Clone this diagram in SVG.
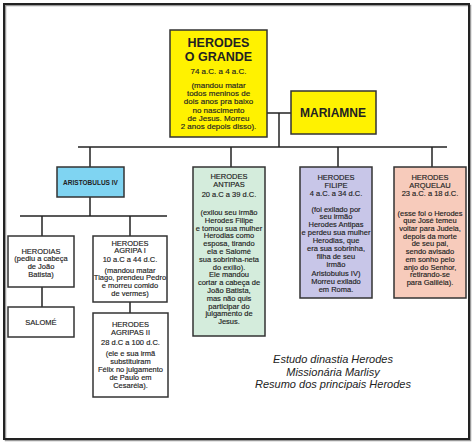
<svg xmlns="http://www.w3.org/2000/svg" width="474" height="443" viewBox="0 0 474 443">
<style>
text{font-family:"Liberation Sans",Arial,sans-serif;fill:#222;text-anchor:middle}
.t{font-size:7.5px;stroke:#222;stroke-width:0.15}
.g{font-size:8px;stroke:#222;stroke-width:0.15}
.hb{font-weight:bold}
.box{stroke:#333;stroke-width:1.5}
.w{fill:#fff}
.c line{stroke:#222;stroke-width:1.5}
.it{font-size:11px;font-style:italic}
</style>
<rect x="0" y="0" width="474" height="443" fill="#fff"/>
<rect x="5.5" y="5.5" width="465" height="435" fill="none" stroke="#999" stroke-width="1.5"/>
<rect x="4" y="4" width="465" height="435" fill="none" stroke="#222" stroke-width="2"/>
<g class="c" id="connectors">
<line x1="267" y1="113" x2="291" y2="113"/>
<line x1="279" y1="113" x2="279" y2="147"/>
<line x1="78" y1="147" x2="447" y2="147"/>
<line x1="90" y1="147" x2="90" y2="167"/>
<line x1="231" y1="147" x2="231" y2="167"/>
<line x1="338" y1="147" x2="338" y2="167"/>
<line x1="432" y1="147" x2="432" y2="167"/>
<line x1="90" y1="197" x2="90" y2="216"/>
<line x1="20" y1="216" x2="167" y2="216"/>
<line x1="42" y1="216" x2="42" y2="236"/>
<line x1="130" y1="216" x2="130" y2="236"/>
<line x1="42" y1="287" x2="42" y2="307"/>
<line x1="130" y1="302" x2="130" y2="313"/>
</g>
<g id="herodes-grande">
<rect class="box" x="170" y="30" width="97" height="107" fill="#fff200"/>
<text x="218.5" y="47" class="hb" font-size="12.5">HERODES</text>
<text x="218.5" y="61" class="hb" font-size="12.5">O GRANDE</text>
<text x="218.5" y="74" class="g">74 a.C. a 4 a.C.</text>
<text x="218.5" y="88" class="g">(mandou matar</text>
<text x="218.5" y="96.2" class="g">todos meninos de</text>
<text x="218.5" y="104.4" class="g">dois anos pra baixo</text>
<text x="218.5" y="112.6" class="g">no nascimento</text>
<text x="218.5" y="120.8" class="g">de Jesus. Morreu</text>
<text x="218.5" y="129" class="g">2 anos depois disso).</text>
</g>
<g id="mariamne">
<rect class="box" x="291" y="91" width="85" height="43" fill="#fff200"/>
<text x="333" y="117" class="hb" font-size="12">MARIAMNE</text>
</g>
<g id="aristobulus">
<rect class="box" x="57" y="167" width="67" height="30" fill="#7fd4f2"/>
<text x="90.5" y="184.5" class="hb" font-size="6.5">ARISTOBULUS IV</text>
</g>
<g id="antipas">
<rect class="box" x="193" y="167" width="72" height="169" fill="#d4ecdc"/>
<g class="t">
<text x="229" y="179">HERODES</text>
<text x="229" y="186.5">ANTIPAS</text>
<text x="229" y="197">20 a.C a 39 d.C.</text>
<text x="229" y="215">(exilou seu irmão</text>
<text x="229" y="222.8">Herodes Filipe</text>
<text x="229" y="230.6">e tomou sua mulher</text>
<text x="229" y="238.4">Herodias como</text>
<text x="229" y="246.2">esposa, tirando</text>
<text x="229" y="254">ela e Salomé</text>
<text x="229" y="261.8">sua sobrinha-neta</text>
<text x="229" y="269.6">do exílio).</text>
<text x="229" y="277.4">Ele mandou</text>
<text x="229" y="285.2">cortar a cabeça de</text>
<text x="229" y="293">João Batista,</text>
<text x="229" y="300.8">mas não quis</text>
<text x="229" y="308.6">participar do</text>
<text x="229" y="316.4">julgamento de</text>
<text x="229" y="324.2">Jesus.</text>
</g>
</g>
<g id="filipe">
<rect class="box" x="300" y="167" width="72" height="131" fill="#c8c6e8"/>
<g class="t">
<text x="336" y="180">HERODES</text>
<text x="336" y="187.5">FILIPE</text>
<text x="336" y="196">4 a.C. a 34 d.C.</text>
<text x="336" y="211.5">(foi exilado por</text>
<text x="336" y="219.3">seu irmão</text>
<text x="336" y="227.1">Herodes Antipas</text>
<text x="336" y="234.9">e perdeu sua mulher</text>
<text x="336" y="242.7">Herodias, que</text>
<text x="336" y="250.5">era sua sobrinha,</text>
<text x="336" y="258.8">filha de seu</text>
<text x="336" y="267">irmão</text>
<text x="336" y="275.8">Aristobulus IV)</text>
<text x="336" y="284">Morreu exilado</text>
<text x="336" y="292.2">em Roma.</text>
</g>
</g>
<g id="arquelau">
<rect class="box" x="394" y="167" width="72" height="131" fill="#f7cbbb"/>
<g class="t">
<text x="430" y="180">HERODES</text>
<text x="430" y="187.5">ARQUELAU</text>
<text x="430" y="196">23 a.C. a 18 d.C.</text>
<text x="430" y="215.5">(esse foi o Herodes</text>
<text x="430" y="223.3">que José temeu</text>
<text x="430" y="231">voltar para Judeia,</text>
<text x="430" y="238.7">depois da morte</text>
<text x="430" y="246.4">de seu pai,</text>
<text x="430" y="254.1">sendo avisado</text>
<text x="430" y="261.8">em sonho pelo</text>
<text x="430" y="269.5">anjo do Senhor,</text>
<text x="430" y="277.2">retirando-se</text>
<text x="430" y="284.9">para Galiléia).</text>
</g>
</g>
<g id="herodias">
<rect class="box w" x="8" y="236" width="66" height="51"/>
<g class="t">
<text x="41" y="253.5">HERODIAS</text>
<text x="41" y="261.2">(pediu a cabeça</text>
<text x="41" y="268.9">de João</text>
<text x="41" y="276.6">Batista)</text>
</g>
</g>
<g id="salome">
<rect class="box w" x="8" y="307" width="66" height="30"/>
<text x="41" y="325" class="t">SALOMÉ</text>
</g>
<g id="agripa1">
<rect class="box w" x="93" y="236" width="74" height="66"/>
<g class="t">
<text x="130" y="245.5">HERODES</text>
<text x="130" y="253.3">AGRIPA I</text>
<text x="130" y="261.5">10 a.C a 44 d.C.</text>
<text x="130" y="272.5">(mandou matar</text>
<text x="130" y="280.4">Tiago, prendeu Pedro</text>
<text x="130" y="288.3">e morreu comido</text>
<text x="130" y="296.2">de vermes)</text>
</g>
</g>
<g id="agripa2">
<rect class="box w" x="93" y="313" width="75" height="84"/>
<g class="t">
<text x="130.5" y="327">HERODES</text>
<text x="130.5" y="334.8">AGRIPAS II</text>
<text x="130.5" y="344.5">28 d.C a 100 d.C.</text>
<text x="130.5" y="355.5">(ele e sua irmã</text>
<text x="130.5" y="363.5">substituiram</text>
<text x="130.5" y="371.8">Félix no julgamento</text>
<text x="130.5" y="379.9">de Paulo em</text>
<text x="130.5" y="388">Cesaréia).</text>
</g>
</g>
<g id="caption">
<text x="333" y="363" class="it">Estudo dinastia Herodes</text>
<text x="333" y="375.5" class="it">Missionária Marlisy</text>
<text x="333" y="388" class="it">Resumo dos principais Herodes</text>
</g>
</svg>
